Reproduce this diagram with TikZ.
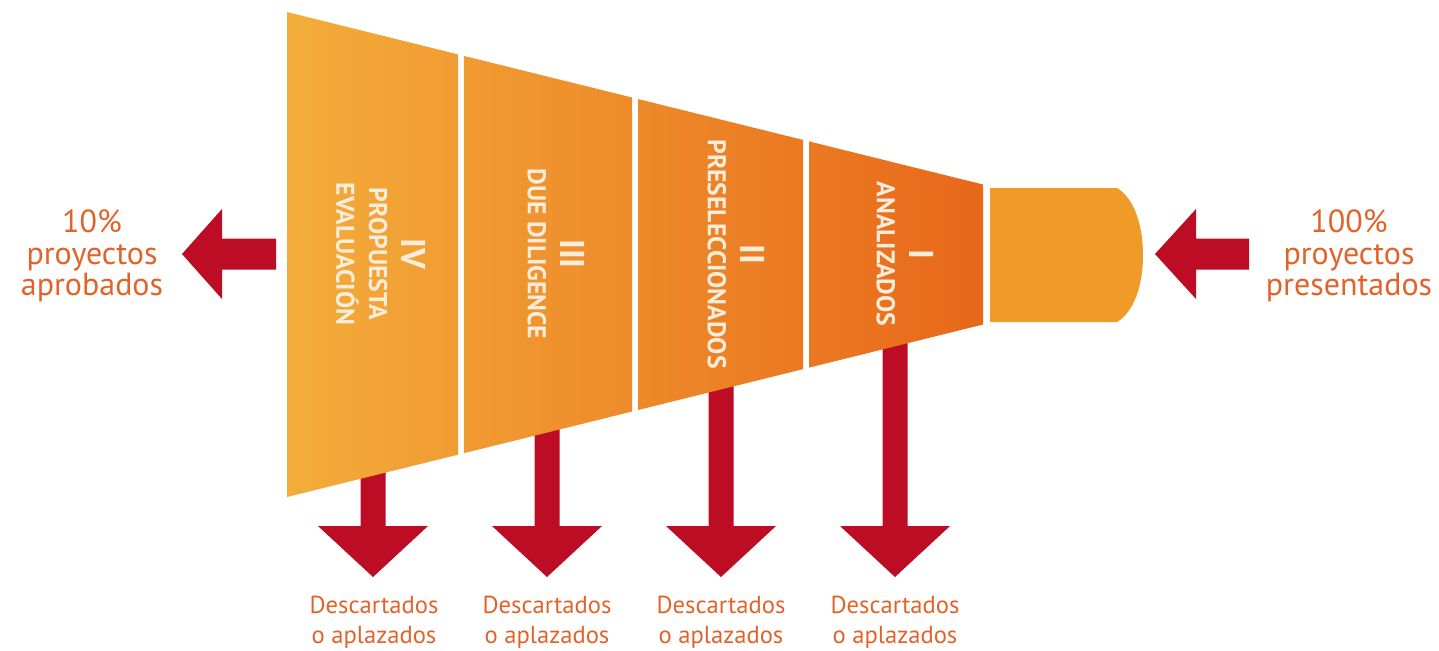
\documentclass[tikz,border=0pt]{standalone}
\usepackage{fontspec}
\setmainfont{PT Sans}
\usetikzlibrary{calc}
\definecolor{funnelL}{RGB}{243,173,58}
\definecolor{funnelR}{RGB}{232,103,26}
\definecolor{capfill}{RGB}{240,154,40}
\definecolor{dropred}{RGB}{188,13,37}
\definecolor{labelorange}{RGB}{226,99,42}
\definecolor{stagetext}{RGB}{252,236,218}

\begin{document}
\begin{tikzpicture}[x=0.01cm,y=-0.01cm,
    stage/.style={rotate=-90,align=center,text=stagetext,inner sep=0pt,
      font=\fontsize{7.3}{9.3}\selectfont\bfseries},
    outcome/.style={align=center,text=labelorange,inner sep=0pt,
      font=\fontsize{7.0}{8.5}\selectfont},
    total/.style={align=center,text=labelorange,inner sep=0pt,
      font=\fontsize{9.1}{9.0}\selectfont}]
    \useasboundingbox (0,0) rectangle (1439,650);

    % corners of the funnel
    \coordinate (tl) at (287,12);
    \coordinate (tr) at (983,184.5);
    \coordinate (bl) at (287,497);
    \coordinate (br) at (983,324.5);

    % arrows going down (the funnel hides the top of each shaft)
    \foreach \x/\n in {373/IV,547/III,721/II,895/I}{
        \coordinate (drop\n) at (\x,577);
        \fill[dropred] (drop\n) -- ++(-55,-51) -- ++(42.5,0) -- ++(0,-226)
            -- ++(25,0) -- ++(0,226) -- ++(42.5,0) -- cycle;
    }

    % the four stages
    \foreach \a/\b in {0/.2457,.2543/.4957,.5043/.7414,.75/1}{
        \pgfmathsetmacro\pa{100*\a}
        \pgfmathsetmacro\pb{100*\b}
        \colorlet{segL}{funnelR!\pa!funnelL}
        \colorlet{segR}{funnelR!\pb!funnelL}
        \shade[left color=segL,right color=segR] ($(tl)!\a!(tr)$) -- ($(tl)!\b!(tr)$)
            -- ($(bl)!\b!(br)$) -- ($(bl)!\a!(br)$) -- cycle;
    }

    % mouth
    \fill[capfill] (990,188) -- (1117,188) .. controls (1134,198) and (1143,225) .. (1143,255)
        .. controls (1143,285) and (1134,312) .. (1117,322) -- (990,322) -- cycle;

    % side arrows
    \coordinate (outtip) at (182,254);
    \coordinate (intip) at (1155,254);
    \fill[dropred] (outtip) -- ++(40,-45) -- ++(0,29.5) -- ++(54,0) -- ++(0,31)
        -- ++(-54,0) -- ++(0,29.5) -- cycle;
    \fill[dropred] (intip) -- ++(41,-45) -- ++(0,29.5) -- ++(53,0) -- ++(0,31)
        -- ++(-53,0) -- ++(0,29.5) -- cycle;

    % stage names
    \node[stage] (lblIV) at (381,254) {{\fontsize{9.8}{9.3}\selectfont IV}\\PROPUESTA\\EVALUACIÓN};
    \node[stage] (lblIII) at (556,254) {{\fontsize{9.8}{9.3}\selectfont III}\\DUE DILIGENCE};
    \node[stage] (lblII) at (736,254) {{\fontsize{9.8}{9.3}\selectfont II}\\PRESELECCIONADOS};
    \node[stage] (lblI) at (905,254) {{\fontsize{9.8}{9.3}\selectfont I}\\ANALIZADOS};

    \foreach \x/\n in {374/IV,547/III,721/II,895/I}
        \node[outcome] (out\n) at (\x,622) {Descartados\\o aplazados};

    \node[total] (approved) at (92,256) {10\%\\proyectos\\aprobados};
    \node[total] (submitted) at (1349,256) {100\%\\proyectos\\presentados};
\end{tikzpicture}
\end{document}
